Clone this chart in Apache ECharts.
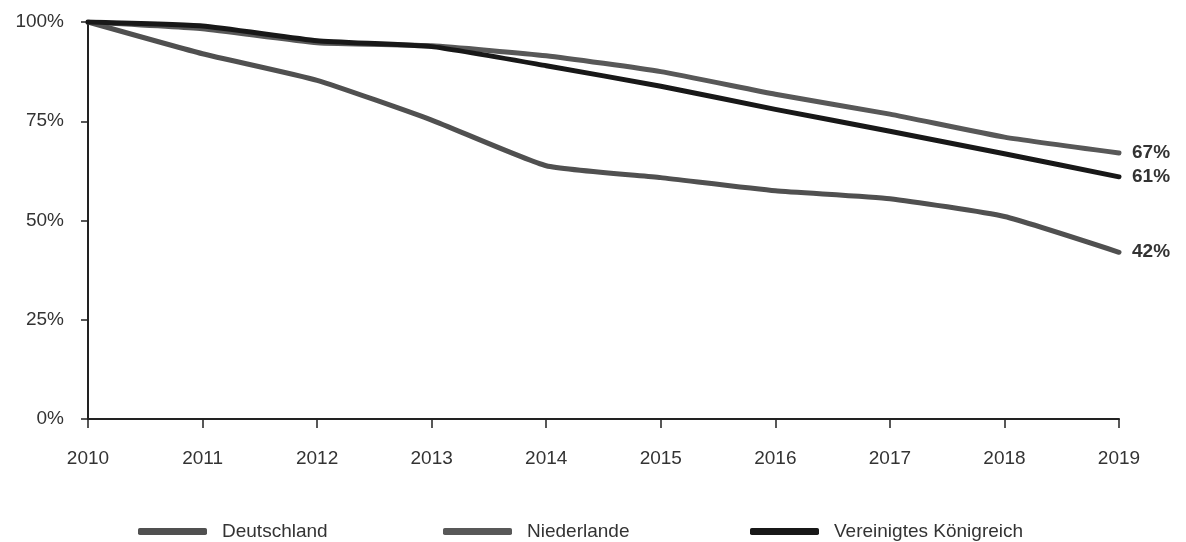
<!DOCTYPE html>
<html><head><meta charset="utf-8">
<script src="https://cdn.jsdelivr.net/npm/echarts@6/dist/echarts.min.js"></script>
<style>html,body{margin:0;padding:0;background:#fff}#c{width:1186px;height:542px}</style>
</head><body><div id="c"></div>
<script>
const years = ['2010','2011','2012','2013','2014','2015','2016','2017','2018','2019'];
const deutschland = [100, 92, 85.3, 75.3, 63.8, 60.8, 57.5, 55.5, 51, 42];
const niederlande = [100, 98.3, 94.8, 94, 91.5, 87.5, 81.8, 76.8, 71, 67];
const vereinigtesKoenigreich = [100, 99, 95.3, 93.8, 89, 83.8, 78, 72.5, 66.8, 61];
const yTicks = [0, 25, 50, 75, 100];

const chart = echarts.init(document.getElementById('c'));
const FONT = 'Liberation Sans, Arial, sans-serif';
function mk(name, data, color, z){
  return {name, type:'line', data, symbol:'none', showSymbol:false, smooth:0.15, z,
    lineStyle:{width:5, color, cap:'round', join:'round'}, itemStyle:{color},
    endLabel:{show:true, formatter: p=>Math.round(p.value)+'%', distance:13,
      fontFamily:FONT, fontWeight:'bold', fontSize:19, color:'#333'}};
}
const s = [
  mk('Deutschland', deutschland, '#505050', 2),
  mk('Niederlande', niederlande, '#585858', 3),
  mk('Vereinigtes Königreich', vereinigtesKoenigreich, '#181818', 4)
];
const legendLefts = [133, 438, 745];
const legends = s.map((x,i)=>({
  left: legendLefts[i], top: 517, orient:'horizontal',
  itemWidth:69, itemHeight:7, icon:'roundRect',
  textStyle:{fontFamily:FONT, fontSize:19, color:'#333', padding:[0,0,0,10]},
  data:[{name:x.name, itemStyle:{color:x.lineStyle.color}}]
}));
chart.setOption({
  animation:false,
  textStyle:{fontFamily:FONT},
  grid:{left:88, right:67, top:22, bottom:123, containLabel:false},
  legend: legends,
  xAxis:{type:'category', data:years, boundaryGap:false,
    axisLine:{lineStyle:{color:'#222', width:2}},
    axisTick:{show:true, length:9, alignWithLabel:true, lineStyle:{color:'#222', width:1.5}},
    axisLabel:{fontSize:19, color:'#333', margin:30}},
  yAxis:{type:'value', min:0, max:100, interval:25,
    axisLine:{show:true, lineStyle:{color:'#222', width:2}},
    axisTick:{show:true, length:7, lineStyle:{color:'#222', width:1.5}},
    splitLine:{show:false},
    axisLabel:{fontSize:19, color:'#333', margin:24, formatter: v => yTicks.includes(v) ? v+'%' : ''}},
  series:s
});
</script></body></html>
